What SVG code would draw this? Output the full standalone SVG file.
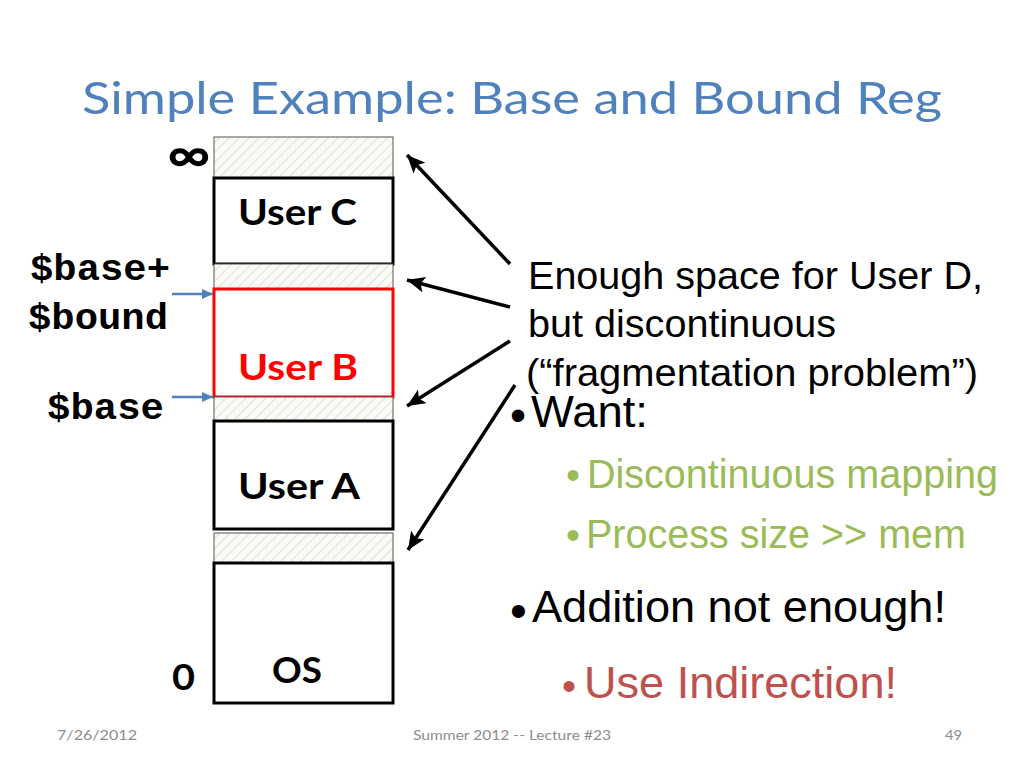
<svg xmlns="http://www.w3.org/2000/svg" width="1024" height="768" viewBox="0 0 1024 768">
<style>
.title{font-family:Lato,"Open Sans","Liberation Sans",sans-serif;font-size:44px;fill:#4F81BD}
.lbl{font-family:Lato,"Open Sans","Liberation Sans",sans-serif;font-weight:bold;font-size:36px;fill:#000}
.mono{font-family:"Liberation Mono","DejaVu Sans Mono",monospace;font-weight:bold;font-size:37px;fill:#000}
.txt{font-family:"Liberation Sans",Arial,sans-serif;fill:#000}
.g{fill:#9BBB59}
.r{fill:#C0504D}
.red{fill:#FF0000}
.foot{font-family:Lato,"Open Sans","Liberation Sans",sans-serif;font-size:14px;fill:#8C8C8C}
.box{fill:#fff;stroke:#000;stroke-width:3}
.hatch{fill:url(#hp);stroke:#555;stroke-width:1}
.conn{stroke:#000;stroke-width:3.5;fill:none;marker-end:url(#ah)}
.blue{stroke:#4F81BD;stroke-width:2.5;fill:none;marker-end:url(#bh)}
</style>
<defs>
<pattern id="hp" patternUnits="userSpaceOnUse" width="7" height="7" patternTransform="rotate(45)">
<rect width="7" height="7" fill="#FAFAF7"/>
<line x1="0" y1="0" x2="0" y2="7" stroke="#DCD7CB" stroke-width="1.5"/>
</pattern>
<marker id="ah" markerUnits="userSpaceOnUse" markerWidth="20" markerHeight="16" refX="18" refY="8" orient="auto">
<path d="M0,0 L18,8 L0,16 L4,8 Z" fill="#000"/>
</marker>
<marker id="bh" markerUnits="userSpaceOnUse" markerWidth="12" markerHeight="10" refX="11" refY="5" orient="auto">
<path d="M0,0 L11,5 L0,10 Z" fill="#4F81BD"/>
</marker>
</defs>
<rect width="1024" height="768" fill="#fff"/>
<text class="title" x="82" y="114" textLength="860" lengthAdjust="spacingAndGlyphs">Simple Example: Base and Bound Reg</text>

<g id="free-top"><rect class="hatch" x="214" y="137" width="179" height="41"/></g>
<g id="user-c"><rect class="box" x="214" y="178" width="179" height="86"/><text class="lbl" x="238" y="225" textLength="119" lengthAdjust="spacingAndGlyphs">User C</text></g>
<g id="free-2"><rect class="hatch" x="214" y="264" width="179" height="25"/></g>
<g id="user-b"><rect x="214" y="289" width="179" height="108" fill="#fff" stroke="#FF0000" stroke-width="3"/><text class="lbl red" x="238" y="380" textLength="120" lengthAdjust="spacingAndGlyphs">User B</text></g>
<g id="free-3"><rect class="hatch" x="214" y="397" width="179" height="24"/></g>
<g id="user-a"><rect class="box" x="214" y="421" width="179" height="108"/><text class="lbl" x="238" y="499" textLength="122" lengthAdjust="spacingAndGlyphs">User A</text></g>
<g id="free-4"><rect class="hatch" x="214" y="533" width="179" height="30"/></g>
<g id="os"><rect class="box" x="214" y="563" width="179" height="140"/><text class="lbl" x="272" y="683" textLength="50" lengthAdjust="spacingAndGlyphs">OS</text></g>

<g id="addr-labels">
<text class="lbl" x="167" y="172" style="font-size:50px" textLength="44" lengthAdjust="spacingAndGlyphs">∞</text>
<text class="mono" x="30" y="280" textLength="140" lengthAdjust="spacingAndGlyphs">$base+</text>
<text class="mono" x="28" y="329" textLength="140" lengthAdjust="spacingAndGlyphs">$bound</text>
<text class="mono" x="47" y="419" textLength="117" lengthAdjust="spacingAndGlyphs">$base</text>
<text class="lbl" x="172" y="690" textLength="23" lengthAdjust="spacingAndGlyphs">0</text>
</g>

<g id="connectors">
<line class="blue" x1="172" y1="294" x2="213" y2="294"/>
<line class="blue" x1="172" y1="397" x2="213" y2="397"/>
<line class="conn" x1="510" y1="264" x2="407" y2="155"/>
<line class="conn" x1="510" y1="307" x2="407" y2="280"/>
<line class="conn" x1="510" y1="341" x2="407" y2="406"/>
<line class="conn" x1="515" y1="385" x2="408" y2="550"/>
</g>

<g id="note">
<text class="txt" x="528" y="289" font-size="39" textLength="455" lengthAdjust="spacingAndGlyphs">Enough space for User D,</text>
<text class="txt" x="528" y="337" font-size="39" textLength="308" lengthAdjust="spacingAndGlyphs">but discontinuous</text>
<text class="txt" x="526" y="386" font-size="39" textLength="452" lengthAdjust="spacingAndGlyphs">(“fragmentation problem”)</text>
</g>

<g id="bullets">
<text class="txt" x="510" y="431" font-size="46">•</text>
<text class="txt" x="531" y="427" font-size="45" textLength="117" lengthAdjust="spacingAndGlyphs">Want:</text>
<text class="txt g" x="566" y="489" font-size="40">•</text>
<text class="txt g" x="587" y="488" font-size="40" textLength="411" lengthAdjust="spacingAndGlyphs">Discontinuous mapping</text>
<text class="txt g" x="566" y="549" font-size="40">•</text>
<text class="txt g" x="586" y="548" font-size="40" textLength="380" lengthAdjust="spacingAndGlyphs">Process size &gt;&gt; mem</text>
<text class="txt" x="510" y="627" font-size="48">•</text>
<text class="txt" x="532" y="622" font-size="45" textLength="414" lengthAdjust="spacingAndGlyphs">Addition not enough!</text>
<text class="txt r" x="562" y="700" font-size="40">•</text>
<text class="txt r" x="584" y="698" font-size="45" textLength="313" lengthAdjust="spacingAndGlyphs">Use Indirection!</text>
</g>

<g id="footer">
<text class="foot" x="57" y="740" textLength="80" lengthAdjust="spacingAndGlyphs">7/26/2012</text>
<text class="foot" x="413" y="740" textLength="198" lengthAdjust="spacingAndGlyphs">Summer 2012 -- Lecture #23</text>
<text class="foot" x="945" y="740" textLength="17" lengthAdjust="spacingAndGlyphs">49</text>
</g>
</svg>
